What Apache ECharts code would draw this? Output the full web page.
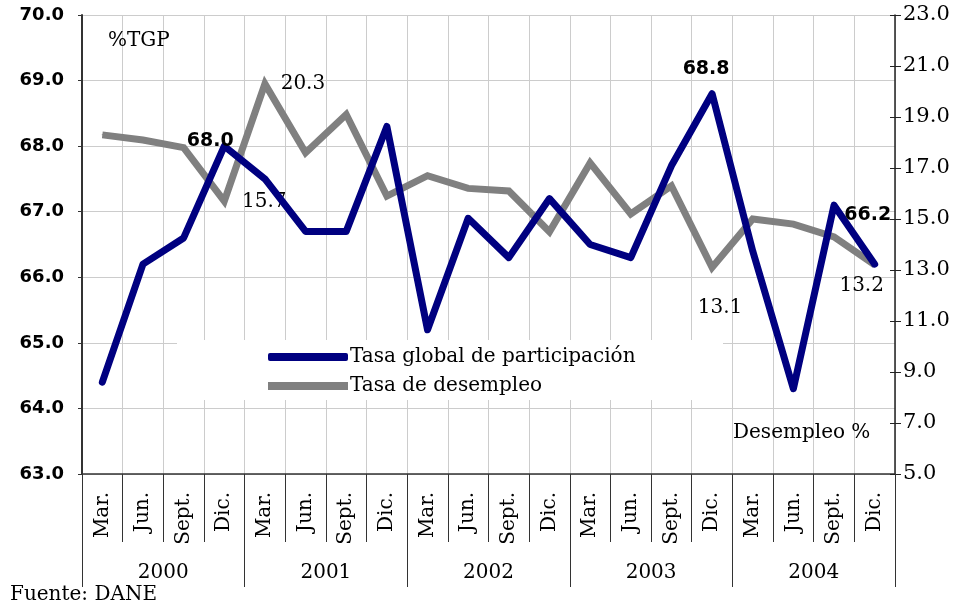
<!DOCTYPE html>
<html>
<head>
<meta charset="utf-8">
<script src="https://cdn.jsdelivr.net/npm/echarts@6/dist/echarts.min.js"></script>
<style>
  html, body { margin: 0; padding: 0; background: #fff; }
  #chart { width: 962px; height: 609px; }
</style>
</head>
<body>
<div id="chart"></div>
<script>
// Quarterly labour-market series, 2000-2004
const months = ['Mar.', 'Jun.', 'Sept.', 'Dic.'];
const years = ['2000', '2001', '2002', '2003', '2004'];
const quarters = years.flatMap(() => months);

// Tasa global de participación (%), left axis
const tgp = [64.4, 66.2, 66.6, 68.0,
             67.5, 66.7, 66.7, 68.3,
             65.2, 66.9, 66.3, 67.2,
             66.5, 66.3, 67.7, 68.8,
             66.4, 64.3, 67.1, 66.2];

// Tasa de desempleo (%), right axis
const desempleo = [18.3, 18.1, 17.8, 15.7,
                   20.3, 17.6, 19.1, 15.9,
                   16.7, 16.2, 16.1, 14.5,
                   17.2, 15.2, 16.3, 13.1,
                   15.0, 14.8, 14.3, 13.2];

const leftTicks = { min: 63, max: 70, step: 1 };
const rightTicks = { min: 5, max: 23, step: 2 };

// Which points carry a value label, and where the label sits
const tgpLabelled = { 3: [-14, 10], 15: [-6, -10], 19: [-7, -34] };
const desLabelled = { 3: [40, 16], 4: [38, 15.5], 15: [8, 56], 19: [-13, 36] };

const SERIF = 'DejaVu Serif';
const SANS = 'DejaVu Sans';

function withLabels(values, labelled, textStyle) {
  return values.map((v, i) => {
    if (!labelled[i]) return v;
    return {
      value: v,
      label: Object.assign({
        show: true,
        position: 'top',
        distance: 5,
        offset: labelled[i],
        formatter: p => Number(p.value).toFixed(1)
      }, textStyle)
    };
  });
}

const chart = echarts.init(document.getElementById('chart'), null, { renderer: 'canvas' });

chart.setOption({
  animation: false,
  backgroundColor: '#ffffff',
  grid: { left: 82, right: 67, top: 15, bottom: 135, containLabel: false },
  xAxis: [
    {
      type: 'category',
      data: quarters,
      boundaryGap: true,
      position: 'bottom',
      axisLine: { show: true, lineStyle: { color: '#333', width: 1.5 } },
      axisTick: { show: true, interval: 0, length: 68, lineStyle: { color: '#333', width: 1 } },
      axisLabel: {
        interval: 0, rotate: 90, margin: 18,
        fontFamily: SERIF, fontSize: 20, color: '#000'
      },
      splitLine: { show: true, interval: 0, lineStyle: { color: '#cccccc', width: 1 } }
    },
    {
      type: 'category',
      data: years,
      boundaryGap: true,
      position: 'bottom',
      axisLine: { show: false },
      axisTick: { show: true, interval: 0, length: 113, lineStyle: { color: '#333', width: 1 } },
      axisLabel: { interval: 0, margin: 89, fontFamily: SERIF, fontSize: 20, color: '#000' },
      splitLine: { show: false }
    }
  ],
  yAxis: [
    {
      type: 'value',
      position: 'left',
      min: leftTicks.min, max: leftTicks.max, interval: leftTicks.step,
      axisLine: { show: true, lineStyle: { color: '#333', width: 2 } },
      axisTick: { show: true, length: 4, lineStyle: { color: '#333' } },
      axisLabel: {
        margin: 18, fontFamily: SANS, fontWeight: 'bold', fontSize: 18, color: '#000',
        formatter: v => v.toFixed(1)
      },
      splitLine: { show: true, lineStyle: { color: '#cccccc', width: 1 } }
    },
    {
      type: 'value',
      position: 'right',
      min: rightTicks.min, max: rightTicks.max, interval: rightTicks.step,
      axisLine: { show: true, lineStyle: { color: '#222', width: 1.5 } },
      axisTick: { show: true, length: 6, lineStyle: { color: '#222' } },
      axisLabel: {
        margin: 8, fontFamily: SERIF, fontSize: 21, color: '#000',
        formatter: v => v.toFixed(1)
      },
      splitLine: { show: false }
    },
    {
      // inner half of the crossing ticks on the right axis
      type: 'value',
      position: 'right',
      min: rightTicks.min, max: rightTicks.max, interval: rightTicks.step,
      axisLine: { show: false },
      axisTick: { show: true, inside: true, length: 5, lineStyle: { color: '#222' } },
      axisLabel: { show: false },
      splitLine: { show: false }
    }
  ],
  legend: {
    orient: 'vertical',
    left: 263, top: 342,
    itemWidth: 80, itemHeight: 8, itemGap: 9,
    textStyle: { fontFamily: SERIF, fontSize: 20, color: '#000', padding: [0, 0, 0, -3] },
    data: [
      { name: 'Tasa global de participación', icon: 'roundRect' },
      { name: 'Tasa de desempleo', icon: 'rect' }
    ]
  },
  graphic: [
    {
      type: 'rect', z: 1,
      shape: { x: 177, y: 340, width: 546, height: 60 },
      style: { fill: '#ffffff' }
    },
    {
      type: 'text', z: 3, left: 108, top: 31,
      style: { text: '%TGP', fontFamily: SERIF, fontSize: 20, fill: '#000' }
    },
    {
      type: 'text', z: 3, left: 733, top: 423,
      style: { text: 'Desempleo %', fontFamily: SERIF, fontSize: 20, fill: '#000' }
    },
    {
      type: 'text', z: 3, left: 10, top: 585,
      style: { text: 'Fuente: DANE', fontFamily: SERIF, fontSize: 20, fill: '#000' }
    }
  ],
  series: [
    {
      name: 'Tasa global de participación',
      type: 'line',
      xAxisIndex: 0, yAxisIndex: 0,
      data: withLabels(tgp, tgpLabelled, {
        fontFamily: SANS, fontWeight: 'bold', fontSize: 19, lineHeight: 19, color: '#000'
      }),
      showSymbol: true, symbol: 'circle', symbolSize: 1,
      itemStyle: { color: '#000080' },
      color: '#000080',
      lineStyle: { color: '#000080', width: 7, cap: 'round', join: 'round' },
      z: 3
    },
    {
      name: 'Tasa de desempleo',
      type: 'line',
      xAxisIndex: 0, yAxisIndex: 1,
      data: withLabels(desempleo, desLabelled, {
        fontFamily: SERIF, fontSize: 20, lineHeight: 20, color: '#000'
      }),
      showSymbol: true, symbol: 'rect', symbolSize: 1,
      itemStyle: { color: '#808080' },
      color: '#808080',
      lineStyle: { color: '#808080', width: 7, cap: 'butt', join: 'miter' },
      z: 2
    }
  ]
});
</script>
</body>
</html>
